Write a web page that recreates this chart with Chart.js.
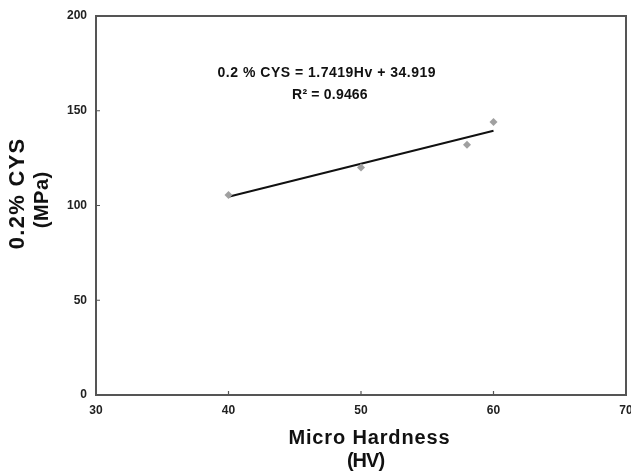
<!DOCTYPE html>
<html>
<head>
<meta charset="utf-8">
<script src="https://cdn.jsdelivr.net/npm/chart.js@4/dist/chart.umd.min.js"></script>
<style>
  html, body { margin: 0; padding: 0; background: #fff; }
  #wrap { width: 631px; height: 471px; }
</style>
</head>
<body>
<div id="wrap"><canvas id="c" width="631" height="471"></canvas></div>
<script>
// ---- data ----
const hardnessHV = [40, 50, 58, 60];
const cysMPa = [105.5, 120, 132, 144];
const trendHV = [40, 60];
const trendMPa = [104.6, 139.4];   // 1.7419*Hv + 34.919
const xTicks = [30, 40, 50, 60, 70];
const yTicks = [0, 50, 100, 150, 200];
const equationLines = ['0.2 % CYS = 1.7419Hv + 34.919', 'R\u00B2 = 0.9466'];
const xTitle = ['Micro Hardness', '(HV)'];
const yTitle = ['0.2% CYS', '(MPa)'];

const FONT = "'Liberation Sans', Arial, sans-serif";

function spaced(ctx, text, x, y, spacing) {
  ctx.letterSpacing = spacing + 'px';
  ctx.fillText(text, x + spacing / 2, y);
  ctx.letterSpacing = '0px';
}

const frame = {
  id: 'frame',
  afterDatasetsDraw(chart) {
    const {ctx, chartArea: a, scales: {x, y}} = chart;
    ctx.save();
    ctx.strokeStyle = '#555';
    ctx.lineWidth = 2;
    ctx.strokeRect(a.left, a.top, a.right - a.left, a.bottom - a.top);
    ctx.lineWidth = 1.2;
    ctx.beginPath();
    xTicks.forEach(v => { const px = x.getPixelForValue(v); ctx.moveTo(px, a.bottom); ctx.lineTo(px, a.bottom - 4); });
    yTicks.forEach(v => { const py = y.getPixelForValue(v); ctx.moveTo(a.left, py); ctx.lineTo(a.left + 4, py); });
    ctx.stroke();
    ctx.fillStyle = '#111';
    ctx.textAlign = 'center';
    ctx.textBaseline = 'middle';
    // equation annotation
    ctx.font = 'bold 14px ' + FONT;
    spaced(ctx, equationLines[0], x.getPixelForValue(47.4), y.getPixelForValue(170), 0.5);
    spaced(ctx, equationLines[1], x.getPixelForValue(47.65), y.getPixelForValue(158.3), 0.2);
    // axis titles
    ctx.font = 'bold 20px ' + FONT;
    spaced(ctx, xTitle[0], 369, 438, 0.85);
    spaced(ctx, xTitle[1], 366, 461, -1);
    ctx.save();
    ctx.translate(18, 194);
    ctx.rotate(-Math.PI / 2);
    ctx.font = 'bold 22px ' + FONT;
    spaced(ctx, yTitle[0], 0, 0, 1.3);
    ctx.restore();
    ctx.save();
    ctx.translate(42, 200);
    ctx.rotate(-Math.PI / 2);
    ctx.font = 'bold 20px ' + FONT;
    spaced(ctx, yTitle[1], 0, 0, 0.5);
    ctx.restore();
    ctx.restore();
  }
};

new Chart(document.getElementById('c'), {
  type: 'scatter',
  data: {
    datasets: [
      {
        label: 'trend',
        type: 'line',
        data: trendHV.map((v, i) => ({x: v, y: trendMPa[i]})),
        borderColor: '#111',
        borderWidth: 2,
        pointRadius: 0,
        fill: false,
        order: 2
      },
      {
        label: 'data',
        data: hardnessHV.map((v, i) => ({x: v, y: cysMPa[i]})),
        pointStyle: 'rectRot',
        pointRadius: 4,
        backgroundColor: '#a0a0a0',
        borderColor: '#a0a0a0',
        borderWidth: 0,
        order: 1
      }
    ]
  },
  options: {
    responsive: false,
    animation: false,
    devicePixelRatio: 1,
    layout: { padding: { top: 16, right: 5, left: 0, bottom: 0 } },
    plugins: { legend: { display: false }, tooltip: { enabled: false } },
    scales: {
      x: {
        type: 'linear',
        min: 30, max: 70,
        afterBuildTicks(s) { s.ticks = xTicks.map(v => ({value: v})); },
        afterFit(s) { s.height = 76; s.paddingLeft = 0; s.paddingRight = 0; },
        grid: { display: false, drawTicks: false },
        border: { display: false },
        ticks: { color: '#222', font: { family: FONT, size: 12, weight: 'bold' }, padding: 8, maxRotation: 0 },
        title: { display: false }
      },
      y: {
        type: 'linear',
        min: 0, max: 200,
        afterBuildTicks(s) { s.ticks = yTicks.map(v => ({value: v})); },
        afterFit(s) { s.width = 96; s.paddingTop = 0; s.paddingBottom = 0; },
        grid: { display: false, drawTicks: false },
        border: { display: false },
        ticks: { color: '#222', font: { family: FONT, size: 12, weight: 'bold' }, padding: 9 },
        title: { display: false }
      }
    }
  },
  plugins: [frame]
});
</script>
</body>
</html>
